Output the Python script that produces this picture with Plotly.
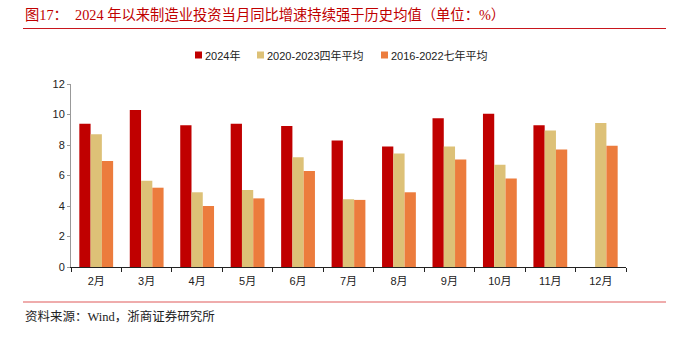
import plotly.graph_objects as go

# Monthly manufacturing investment growth, YoY (%)
months = ["2月", "3月", "4月", "5月", "6月", "7月", "8月", "9月", "10月", "11月", "12月"]
y2024 = [9.4, 10.3, 9.3, 9.4, 9.25, 8.3, 7.9, 9.75, 10.05, 9.3, None]
avg_2020_2023 = [8.7, 5.65, 4.9, 5.05, 7.2, 4.45, 7.45, 7.9, 6.7, 8.95, 9.45]
avg_2016_2022 = [6.95, 5.2, 4.0, 4.5, 6.3, 4.4, 4.9, 7.05, 5.8, 7.7, 7.95]

series_names = ["2024年", "2020-2023四年平均", "2016-2022七年平均"]
series_colors = ["#C00000", "#DDC177", "#EC7C3D"]

# Plot-area geometry in pixels, used to place header, legend and footer
W, H = 674, 339
L, R, T, B = 71, 48, 84, 72
pw, ph = W - L - R, H - T - B


def px_x(x):
    return (x - L) / pw


def px_y(y):
    return (H - B - y) / ph


fig = go.Figure()
for name, vals, color in zip(series_names, [y2024, avg_2020_2023, avg_2016_2022], series_colors):
    fig.add_trace(go.Bar(x=months, y=vals, name=name, marker_color=color,
                         marker_line_width=0, showlegend=False))

fig.update_layout(
    width=W, height=H,
    margin=dict(l=L, r=R, t=T, b=B, autoexpand=False),
    paper_bgcolor="white", plot_bgcolor="white",
    barmode="group", bargap=0.33, bargroupgap=0,
    font=dict(family="Arial, Liberation Sans, Noto Sans CJK SC", size=11, color="#222"),
    xaxis=dict(showline=True, linecolor="#222", linewidth=1, ticks="outside",
               tickson="boundaries", ticklen=4, tickcolor="#222", showgrid=False,
               ticklabelstandoff=4, tickfont=dict(size=11, color="#222")),
    yaxis=dict(range=[0, 12], dtick=2, showline=True, linecolor="#999", linewidth=1,
               ticks="outside", ticklen=3, tickcolor="#999", showgrid=False,
               zeroline=False, tickfont=dict(size=11, color="#222")),
)

# Compact legend: small colour squares followed by their labels
legend_x = [195, 257, 381]
for lx, name, color in zip(legend_x, series_names, series_colors):
    fig.add_shape(type="rect", xref="paper", yref="paper",
                  x0=px_x(lx), x1=px_x(lx + 7), y0=px_y(51.5), y1=px_y(58.5),
                  fillcolor=color, line=dict(width=0))
    fig.add_annotation(text=name, xref="paper", yref="paper",
                       x=px_x(lx + 8), y=px_y(55), xanchor="left", yanchor="middle",
                       showarrow=False, font=dict(size=11, color="#222"))

# Header title and rule
fig.add_annotation(
    text="图17：  2024 年以来制造业投资当月同比增速持续强于历史均值（单位：%）",
    xref="paper", yref="paper", x=px_x(23), y=px_y(15), xanchor="left", yanchor="middle",
    showarrow=False,
    font=dict(family="Liberation Serif, Noto Sans CJK SC", size=14.3, color="#C00000"))
fig.add_shape(type="line", xref="paper", yref="paper",
              x0=px_x(23), x1=px_x(666), y0=px_y(28.5), y1=px_y(28.5),
              line=dict(color="#C8161D", width=1.2))

# Footer rule and source note
fig.add_shape(type="line", xref="paper", yref="paper",
              x0=px_x(23), x1=px_x(666), y0=px_y(302), y1=px_y(302),
              line=dict(color="#E05A5A", width=1.2))
fig.add_annotation(
    text="资料来源：Wind，浙商证券研究所",
    xref="paper", yref="paper", x=px_x(23), y=px_y(316), xanchor="left", yanchor="middle",
    showarrow=False,
    font=dict(family="Liberation Serif, Noto Sans CJK SC", size=12.5, color="#222"))

fig.write_html("out.html")
